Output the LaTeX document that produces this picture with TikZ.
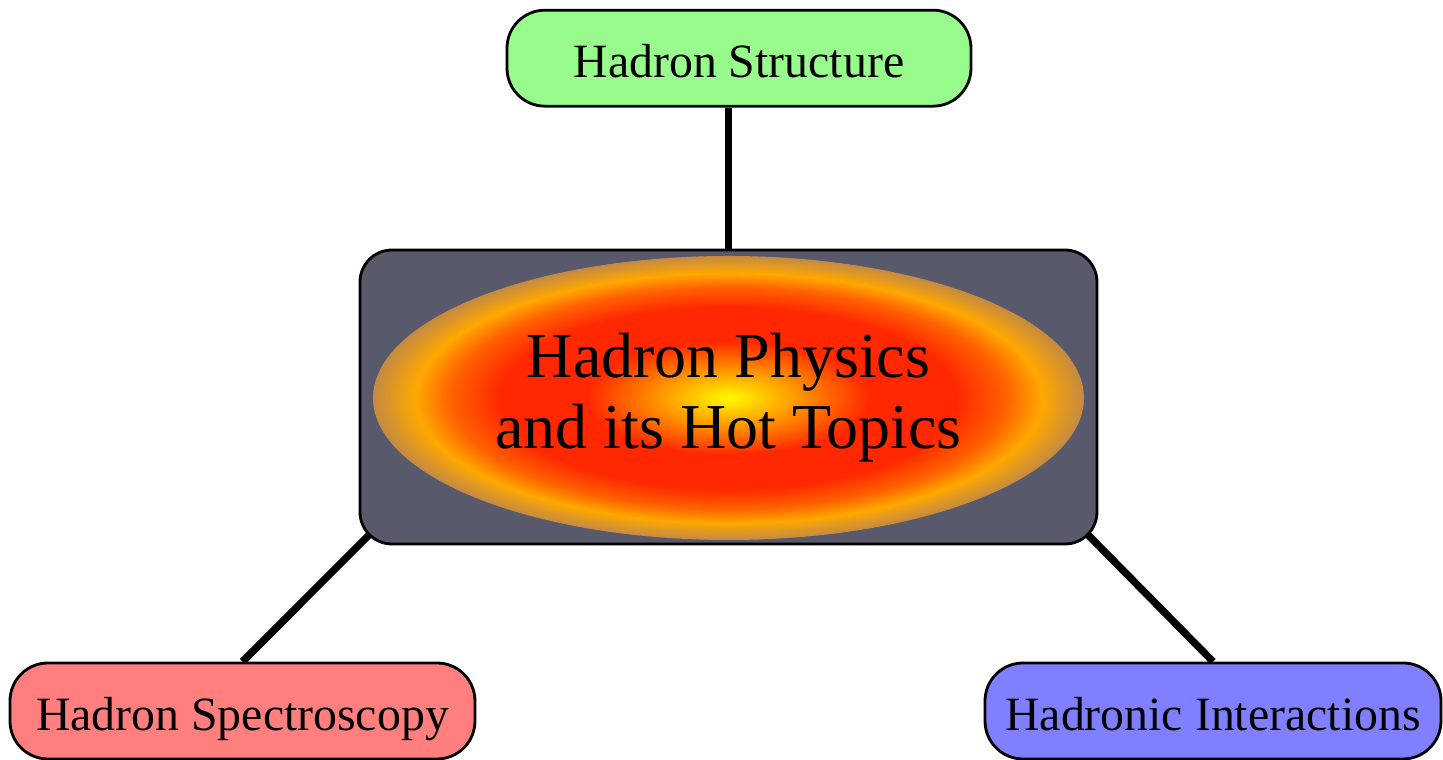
\documentclass[tikz,border=0pt]{standalone}
\usepackage{fontspec}
\setmainfont{Liberation Serif}
\usepackage{tikz}
\usetikzlibrary{positioning, shapes.geometric, backgrounds}

\definecolor{structgreen}{RGB}{152,252,140}
\definecolor{specred}{RGB}{255,127,127}
\definecolor{interblue}{RGB}{127,127,255}
\definecolor{fieldgray}{RGB}{88,89,106}
\definecolor{hotyellow}{RGB}{255,250,0}
\definecolor{hotorange}{RGB}{255,168,0}
\definecolor{hotred}{RGB}{255,40,0}
\definecolor{hotrim}{RGB}{196,138,66}

\pgfdeclareradialshading{hotcore}{\pgfpoint{0bp}{0bp}}{%
  color(0bp)=(hotyellow); color(4bp)=(hotorange); color(10bp)=(hotred);
  color(16bp)=(hotred); color(19.5bp)=(hotred!55!hotorange); color(22bp)=(hotorange);
  color(25bp)=(hotrim); color(36bp)=(hotrim)}

\tikzset{
  topicbox/.style={draw, line width=0.8pt, rectangle, rounded corners=0.38cm,
    minimum width=4.64cm, minimum height=0.96cm, inner sep=0pt,
    text height=12pt, text depth=0.8pt,
    font=\fontsize{13.6}{16}\selectfont},
  link/.style={line width=2.1pt}
}

\begin{document}
\begin{tikzpicture}
    \useasboundingbox (-7.285,-3.63) rectangle (7.145,3.97);

    % Central field
    \node[draw, line width=0.8pt, rectangle, rounded corners=0.32cm, fill=fieldgray,
      minimum width=7.37cm, minimum height=2.94cm] (field) at (0,0) {};
    \node[ellipse, shading=hotcore, minimum width=7.11cm, minimum height=2.84cm,
      inner sep=0pt, align=center, font=\fontsize{18.2}{20.2}\selectfont]
      (hot) at (0,-0.01) {Hadron Physics\\and its Hot Topics};

    % Topics
    \node[topicbox, fill=structgreen, above=1.41cm of field, xshift=0.105cm] (struct) {Hadron Structure};
    \node[topicbox, fill=specred, minimum width=4.65cm] (spec) at (-4.86,-3.14) {Hadron Spectroscopy};
    \node[topicbox, fill=interblue, minimum width=4.56cm] (inter) at (4.845,-3.14) {Hadronic Interactions};

    % Links
    \begin{pgfonlayer}{background}
    \draw[link] (field.north) -- (field.north |- struct.south);
    \draw[link, shorten >=-0.3cm] (spec.north) -- (field.south west);
    \draw[link, shorten >=-0.3cm] (inter.north) -- (field.south east);
    \end{pgfonlayer}
\end{tikzpicture}
\end{document}
